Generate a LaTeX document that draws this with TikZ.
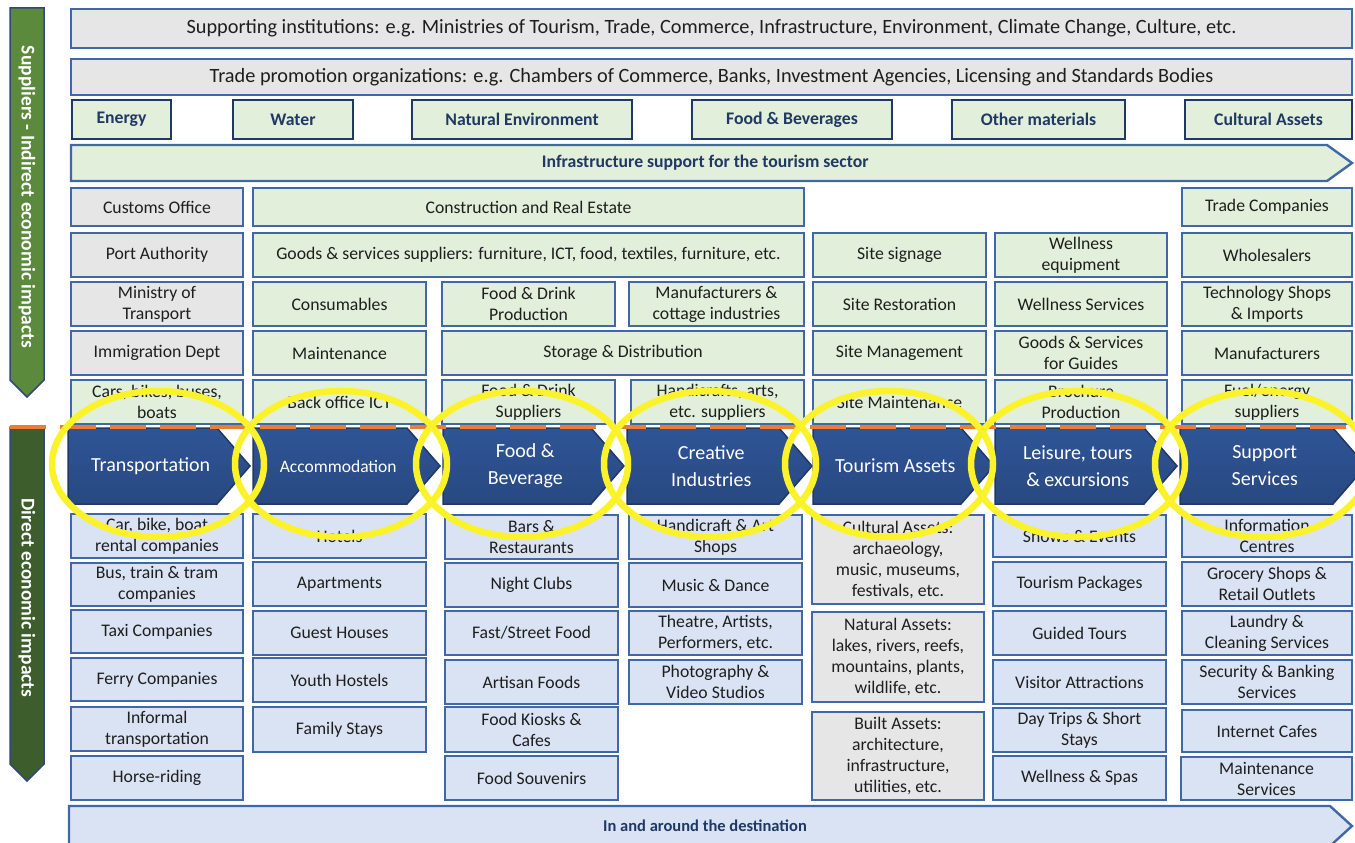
\documentclass[tikz,border=0pt]{standalone}
\usepackage{fontspec}
\setmainfont{Carlito}
\usepackage{tikz}
\usetikzlibrary{shapes}

\definecolor{lgray}{HTML}{E7E6E6}
\definecolor{lgreen}{HTML}{E2EFDA}
\definecolor{lblue}{HTML}{DAE3F3}
\definecolor{bblue}{HTML}{4068A8}
\definecolor{navy}{HTML}{1F3864}
\definecolor{chevblue}{HTML}{2F5597}
\definecolor{supgreen}{HTML}{5B8A3C}
\definecolor{dirgreen}{HTML}{3D5E2C}
\definecolor{dashorange}{HTML}{ED7D31}
\definecolor{hiyellow}{HTML}{FCF22A}
\definecolor{txt}{HTML}{1E1E1E}

\newcommand\gridfont{\fontsize{17.7}{21}\selectfont}
\newcommand\headfont{\fontsize{20.3}{23}\selectfont}
\newcommand\bandfont{\fontsize{16.5}{20}\selectfont}
\newcommand\chevfont{\fontsize{20}{27}\selectfont}
\newcommand\sidefont{\fontsize{19.5}{23}\selectfont}

\def\cell[#1](#2)(#3:#4:#5:#6)#7% Syntax: [style] (name) (left:top:right:bottom) {text}
    { \node[#1, minimum width={#5-#3}, minimum height={#6-#4}] (#2) at ({(#3+#5)/2},{(#4+#6)/2}) {#7}; }
\def\bararrow[#1](#2)(#3:#4:#5:#6:#7)#8% Syntax: [style] (name) (left:top:right:bottom:tip) {text}
    { \draw[#1] (#3,#4) -- ({#5-#7},#4) -- (#5,{(#4+#6)/2}) -- ({#5-#7},#6) -- (#3,#6) -- cycle;
      \node[#1txt] (#2) at ({(#3+#5)/2-#7/4},{(#4+#6)/2}) {#8}; }

\begin{document}
\begin{tikzpicture}[x=1pt, y=-1pt,
    cellbase/.style={draw=bblue, line width=2.4pt, inner sep=0pt, align=center, text=txt, font=\gridfont},
    gbox/.style={cellbase, fill=lgray},
    sbox/.style={cellbase, fill=lgreen},
    dbox/.style={cellbase, fill=lblue},
    tbox/.style={cellbase, draw=navy, line width=2.8pt, fill=lgreen, text=navy, font=\gridfont\bfseries},
    headbox/.style={gbox, font=\headfont},
    infra/.style={draw=bblue, line width=2.4pt, fill=lgreen},
    infratxt/.style={text=navy, font=\fontsize{17.7}{21}\selectfont\bfseries},
    dest/.style={draw=bblue, line width=2.4pt, fill=lblue},
    desttxt/.style={text=navy, font=\bandfont\bfseries},
    chev/.style={draw=navy, line width=1.5pt, top color=chevblue, bottom color=chevblue!85!black},
    chevtxt/.style={text=white, align=center, font=\chevfont},
    side/.style={draw=bblue!70!black, line width=1.5pt},
    sidetxt/.style={text=white, rotate=-90, font=\sidefont\bfseries},
    dashline/.style={dashorange, line width=4pt, dash pattern=on 36pt off 14pt},
    hiring/.style={hiyellow, line width=6.5pt}]
   \useasboundingbox (0,0) rectangle (1355,843);

   % side arrows
   \draw[side, fill=supgreen] (10,8) -- (44,8) -- (44,380) -- (27,397) -- (10,380) -- cycle;
   \node[sidetxt] (suppliers) at (27,197) {Suppliers - Indirect economic impacts};
   \draw[side, fill=dirgreen] (10,427) -- (44,427) -- (44,764) -- (27,781) -- (10,764) -- cycle;
   \node[sidetxt] (direct) at (27,598) {Direct economic impacts};

   % supporting bodies
   \cell[headbox](institutions)(71:9:1352:48){Supporting institutions: e.g. Ministries of Tourism, Trade, Commerce, Infrastructure, Environment, Climate Change, Culture, etc.}
   \cell[headbox](promotion)(71:59:1352:95){Trade promotion organizations: e.g. Chambers of Commerce, Banks, Investment Agencies, Licensing and Standards Bodies}

   \cell[tbox](energy)(72:100:171:139){Energy}
   \cell[tbox](water)(233:100:353:139){Water}
   \cell[tbox](natenv)(412:100:632:139){Natural Environment}
   \cell[tbox](foodbev)(692:100:892:139){Food \& Beverages}
   \cell[tbox](othermat)(952:100:1125:139){Other materials}
   \cell[tbox](cultassets)(1185:100:1352:139){Cultural Assets}

   \bararrow[infra](infrastructure)(71:145:1352:181:25){Infrastructure support for the tourism sector}

   % suppliers
   \cell[gbox](customs)(71:188:243:226){Customs Office}
   \cell[sbox](construction)(253:188:804:226){Construction and Real Estate}
   \cell[sbox](tradeco)(1182:188:1352:226){Trade Companies}

   \cell[gbox](port)(71:233:243:277){Port Authority}
   \cell[sbox](goods)(253:233:804:277){Goods \& services suppliers: furniture, ICT, food, textiles, furniture, etc.}
   \cell[sbox](signage)(813:233:986:277){Site signage}
   \cell[sbox](wellequip)(995:233:1167:277){Wellness\\equipment}
   \cell[sbox](wholesale)(1182:233:1352:277){Wholesalers}

   \cell[gbox](ministry)(71:282:243:326){Ministry of\\Transport}
   \cell[sbox](consumables)(253:282:426:326){Consumables}
   \cell[sbox](fdprod)(442:282:615:326){Food \& Drink\\Production}
   \cell[sbox](manufact)(629:282:804:326){Manufacturers \&\\cottage industries}
   \cell[sbox](restoration)(813:282:986:326){Site Restoration}
   \cell[sbox](wellserv)(995:282:1167:326){Wellness Services}
   \cell[sbox](techshops)(1182:282:1352:326){Technology Shops\\\& Imports}

   \cell[gbox](immigration)(71:331:243:375){Immigration Dept}
   \cell[sbox](maintenance)(253:331:426:375){Maintenance}
   \cell[sbox](storage)(442:331:804:375){Storage \& Distribution}
   \cell[sbox](sitemgmt)(813:331:986:375){Site Management}
   \cell[sbox](guides)(995:331:1167:375){Goods \& Services\\for Guides}
   \cell[sbox](manufacturers)(1182:331:1352:375){Manufacturers}

   \cell[sbox](vehicles)(71:380:243:424){Cars, bikes, buses,\\boats}
   \cell[sbox](backoffice)(253:380:426:424){Back office ICT}
   \cell[sbox](fdsupp)(442:380:615:424){Food \& Drink\\Suppliers}
   \cell[sbox](craftsupp)(631:380:804:424){Handicrafts, arts,\\etc. suppliers}
   \cell[sbox](sitemaint)(813:380:986:424){Site Maintenance}
   \cell[sbox](brochure)(995:380:1167:424){Brochure\\Production}
   \cell[sbox](fuel)(1182:380:1352:424){Fuel/energy\\suppliers}

   % value chain
   \bararrow[chev](transport)(68:428:250:504:33){Transportation}
   \bararrow[chev](accommodation)(253:428:440:504:33){\fontsize{17.5}{21}\selectfont Accommodation}
   \bararrow[chev](foodchain)(443:428:624:504:33){Food \&\\Beverage}
   \bararrow[chev](creative)(627:428:812:504:33){Creative\\Industries}
   \bararrow[chev](tourism)(813:428:994:504:33){Tourism Assets}
   \bararrow[chev](leisure)(995:428:1177:504:33){Leisure, tours\\\& excursions}
   \bararrow[chev](support)(1180:428:1366:504:33){Support\\Services}

   \coordinate (dashstart) at (10,427);
   \coordinate (dashend) at (1355,427);
   \draw[dashline] (dashstart) -- (dashend);

   % direct businesses
   \cell[dbox](rental)(71:514:243:558){Car, bike, boat\\rental companies}
   \cell[dbox](bus)(71:563:243:606){Bus, train \& tram\\companies}
   \cell[dbox](taxi)(71:610:243:653){Taxi Companies}
   \cell[dbox](ferry)(71:658:243:701){Ferry Companies}
   \cell[dbox](informal)(71:707:243:751){Informal\\transportation}
   \cell[dbox](horse)(71:756:243:800){Horse-riding}

   \cell[dbox](hotels)(253:514:426:558){Hotels}
   \cell[dbox](apartments)(253:562:426:606){Apartments}
   \cell[dbox](guesthouses)(253:611:426:655){Guest Houses}
   \cell[dbox](hostels)(253:658:426:702){Youth Hostels}
   \cell[dbox](familystays)(253:707:426:752){Family Stays}

   \cell[dbox](bars)(445:515:618:559){Bars \&\\Restaurants}
   \cell[dbox](nightclubs)(445:563:618:607){Night Clubs}
   \cell[dbox](fastfood)(445:611:618:655){Fast/Street Food}
   \cell[dbox](artisan)(445:660:618:704){Artisan Foods}
   \cell[dbox](kiosks)(445:707:618:752){Food Kiosks \&\\Cafes}
   \cell[dbox](souvenirs)(445:756:618:800){Food Souvenirs}

   \cell[dbox](craftshops)(629:515:802:559){Handicraft \& Art\\Shops}
   \cell[dbox](music)(629:563:802:607){Music \& Dance}
   \cell[dbox](theatre)(629:611:802:655){Theatre, Artists,\\Performers, etc.}
   \cell[dbox](photo)(629:660:802:704){Photography \&\\Video Studios}

   \cell[gbox](cultural)(812:515:984:604){Cultural Assets:\\archaeology,\\music, museums,\\festivals, etc.}
   \cell[gbox](natural)(812:612:984:702){Natural Assets:\\lakes, rivers, reefs,\\mountains, plants,\\wildlife, etc.}
   \cell[gbox](built)(812:712:984:800){Built Assets:\\architecture,\\infrastructure,\\utilities, etc.}

   \cell[dbox](shows)(993:515:1166:557){Shows \& Events}
   \cell[dbox](packages)(993:562:1166:606){Tourism Packages}
   \cell[dbox](guided)(993:611:1166:655){Guided Tours}
   \cell[dbox](visitor)(993:660:1166:704){Visitor Attractions}
   \cell[dbox](daytrips)(993:708:1166:752){Day Trips \& Short\\Stays}
   \cell[dbox](spas)(993:756:1166:800){Wellness \& Spas}

   \cell[dbox](info)(1182:515:1352:557){Information\\Centres}
   \cell[dbox](grocery)(1182:562:1352:606){Grocery Shops \&\\Retail Outlets}
   \cell[dbox](laundry)(1182:611:1352:655){Laundry \&\\Cleaning Services}
   \cell[dbox](security)(1182:660:1352:704){Security \& Banking\\Services}
   \cell[dbox](internet)(1182:710:1352:752){Internet Cafes}
   \cell[dbox](maintserv)(1181:757:1352:800){Maintenance\\Services}

   \bararrow[dest](destination)(69:806:1352:846:22){In and around the destination}

   % highlights
   \draw[hiring] (158,464) ellipse [x radius=106, y radius=73];
   \draw[hiring] (341,464) ellipse [x radius=106, y radius=73];
   \draw[hiring] (522,464) ellipse [x radius=106, y radius=73];
   \draw[hiring] (710,464) ellipse [x radius=106, y radius=73];
   \draw[hiring] (889,464) ellipse [x radius=104, y radius=73];
   \draw[hiring] (1078,464) ellipse [x radius=107, y radius=73];
   \draw[hiring] (1262,464) ellipse [x radius=107, y radius=73];
\end{tikzpicture}
\end{document}
